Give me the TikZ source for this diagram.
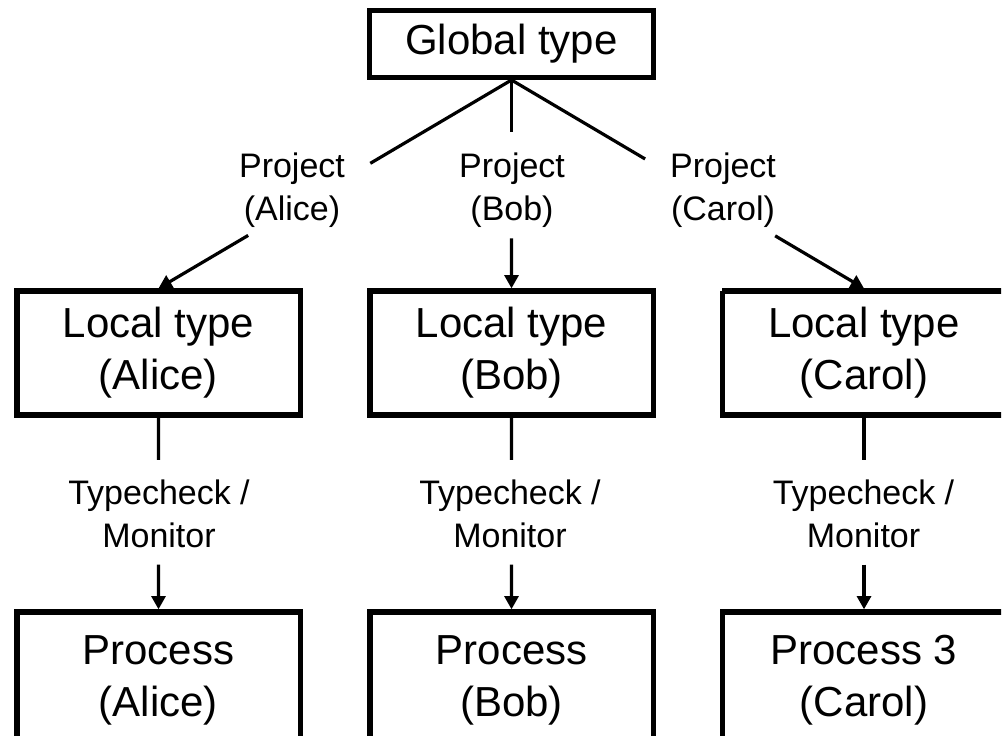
\documentclass[tikz,border=0pt]{standalone}
\usepackage{fontspec}
\setmainfont{Liberation Sans}
\usetikzlibrary{arrows.meta,calc}
\begin{document}
\begin{tikzpicture}[x=0.75pt,y=-0.75pt,
  box/.style={draw, line width=4pt, fill=white, minimum width=212.5pt, minimum height=93pt, inner sep=0pt, align=center, font=\fontsize{31.5}{39}\selectfont},
  gbox/.style={box, minimum width=213pt, minimum height=50pt},
  pbox/.style={box, minimum height=97.5pt, text depth=1.5pt},
  cbox/.style={box, draw=none},
  border/.style={draw, line width=4pt},
  lbl/.style={inner sep=0pt, align=center, font=\fontsize{25.5}{32}\selectfont},
  conn/.style={line width=2.4pt},
  arr/.style={conn, -{Triangle[length=10pt,width=10.5pt]}}]
\path[use as bounding box] (0,0) rectangle (1002,735);
\begin{scope}
\clip (0,0) rectangle (1001,735);
\fill[white] (0,0) rectangle (1002,735);
% nodes
\node[gbox] (G) at (511.5,44) {Global type};
\node[box] (LA) at (158.5,353) {Local type\\(Alice)};
\node[box] (LB) at (511.5,353) {Local type\\(Bob)};
\node[cbox] (LC) at (864,353) {Local type\\(Carol)};
\node[pbox] (PA) at (158.5,677) {Process\\(Alice)};
\node[pbox] (PB) at (511.5,677) {Process\\(Bob)};
\node[pbox, draw=none] (PC) at (864,677) {Process 3\\(Carol)};
% Carol boxes run past the right edge of the picture
\path[border] ($(LC.north west)+(2.7,2.7)$) -- ($(LC.north east)+(80,2.7)$);
\path[border] ($(LC.north west)+(2.7,2.7)$) -- ($(LC.south west)+(2.7,-2.7)$) -- ($(LC.south east)+(80,-2.7)$);
\path[border] ($(PC.south west)+(2.7,-2.7)$) -- ($(PC.north west)+(2.7,2.7)$) -- ($(PC.north east)+(80,2.7)$);
% labels
\node[lbl] (pjA) at (292,190) {Project\\(Alice)};
\node[lbl] (pjB) at (512,190) {Project\\(Bob)};
\node[lbl] (pjC) at (723,190) {Project\\(Carol)};
\node[lbl] (tcA) at (159,514) {Typecheck /\\Monitor};
\node[lbl] (tcB) at (510,514) {Typecheck /\\Monitor};
\node[lbl] (tcC) at (863.5,514) {Typecheck /\\Monitor};
% break points
\coordinate (a1) at ($(G.south)!0.40!(LA.north)$);
\coordinate (a2) at ($(G.south)!0.746!(LA.north)$);
\coordinate (b1) at ($(G.south)!0.25!(LB.north)$);
\coordinate (b2) at ($(G.south)!0.76!(LB.north)$);
\coordinate (c1) at ($(G.south)!0.379!(LC.north)$);
\coordinate (c2) at ($(G.south)!0.748!(LC.north)$);
\coordinate (ta1) at ($(LA.south)!0.22!(PA.north)$);
\coordinate (ta2) at ($(LA.south)!0.767!(PA.north)$);
\coordinate (tb1) at ($(LB.south)!0.22!(PB.north)$);
\coordinate (tb2) at ($(LB.south)!0.767!(PB.north)$);
\coordinate (tc1) at ($(LC.south)!0.22!(PC.north)$);
\coordinate (tc2) at ($(LC.south)!0.767!(PC.north)$);
% connectors
\draw[conn] (G.south) -- (a1);
\draw[arr] (a2) -- (LA.north);
\draw[conn] (G.south) -- (b1);
\draw[arr] (b2) -- (LB.north);
\draw[conn] (G.south) -- (c1);
\draw[arr] (c2) -- (LC.north);
\draw[conn] (LA.south) -- (ta1);
\draw[arr] (ta2) -- (PA.north);
\draw[conn] (LB.south) -- (tb1);
\draw[arr] (tb2) -- (PB.north);
\draw[conn] (LC.south) -- (tc1);
\draw[arr] (tc2) -- (PC.north);
\end{scope}
\end{tikzpicture}
\end{document}
